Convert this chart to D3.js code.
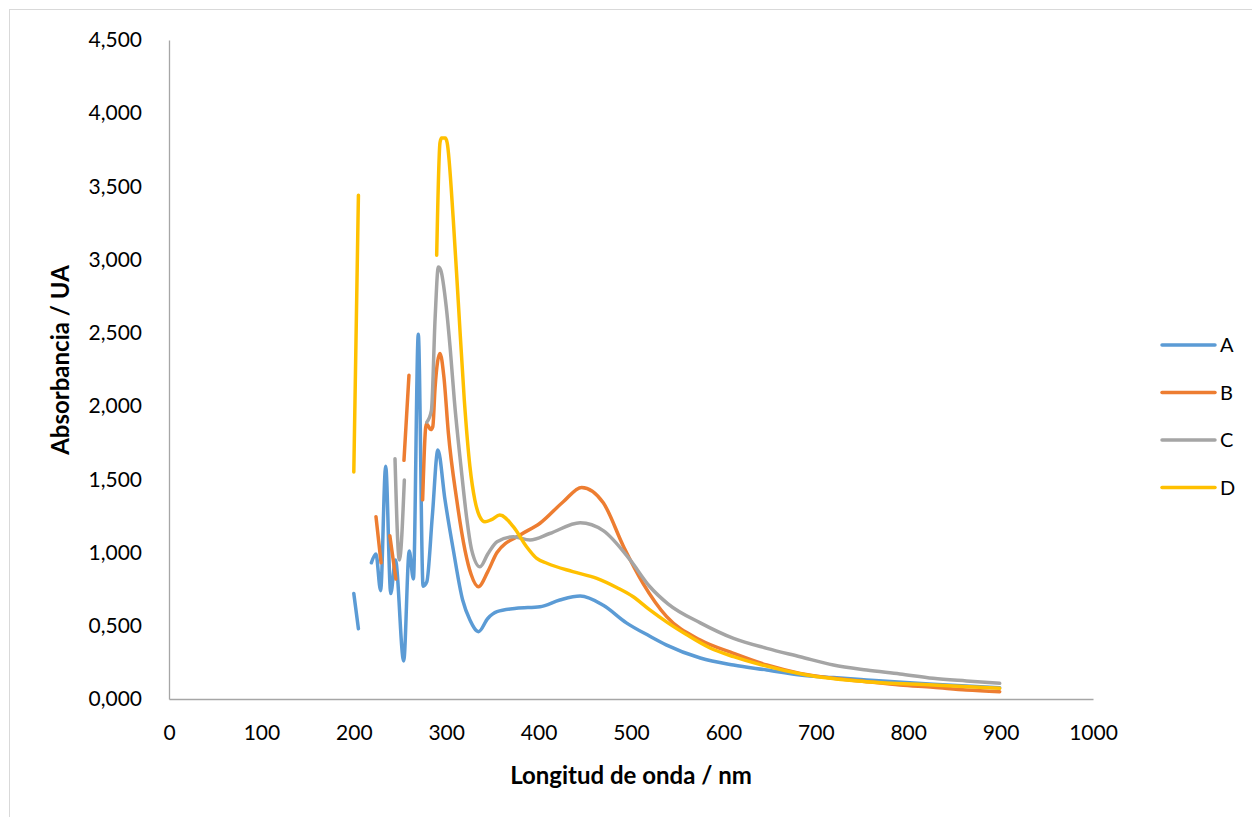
<!DOCTYPE html>
<html>
<head>
<meta charset="utf-8">
<title>Absorbancia</title>
<style>
  body { margin: 0; background: #fff; }
  #chart { width: 1252px; height: 817px; }
  .tick text { font-family: Lato, sans-serif; font-size: 21px; fill: #000; }
  .axis-title { font-family: Lato, sans-serif; font-size: 24px; font-weight: bold; }
  .legend text { font-family: Lato, sans-serif; font-size: 20px; }
  .serie { fill: none; stroke-width: 3.5px; stroke-linejoin: round; stroke-linecap: round; }
</style>
</head>
<body>
<div id="chart"></div>
<script src="https://cdnjs.cloudflare.com/ajax/libs/d3/7.8.5/d3.min.js"></script>
<script>
// wavelengths (nm) and absorbance (UA); null = gap in the recorded trace
var wlA  = [200, 205, null, 219, 224, 229, 234.5, 240, 245, 254, 260, 264.5, 269.8, 275, 279, 285, 291, 298.7, 307.7, 317.8, 325.7, 335, 345, 355, 376, 401.5, 423, 445, 470, 495, 520, 538, 575, 611, 647, 683, 719, 755, 827, 899];
var absA = [0.72, 0.48, null, 0.93, 0.99, 0.74, 1.59, 0.72, 0.95, 0.26, 1.01, 0.82, 2.49, 0.77, 0.80, 1.25, 1.70, 1.36, 1.017, 0.676, 0.54, 0.46, 0.55, 0.596, 0.619, 0.63, 0.676, 0.703, 0.64, 0.52, 0.43, 0.37, 0.28, 0.232, 0.198, 0.164, 0.146, 0.13, 0.10, 0.077];

var wlB  = [224, 229.5, null, 239, 245.5, null, 254.3, 259.7, null, 274.5, 278.5, 283.5, 285.5, 288, 293.3, 297.5, 302.3, 311.4, 320.3, 327, 334.8, 345, 355, 380, 401.5, 426.7, 446.6, 470, 492, 513, 538.6, 575, 611, 647, 683, 719, 755, 791, 827, 863, 899];
var absB = [1.245, 0.93, null, 1.115, 0.82, null, 1.63, 2.21, null, 1.36, 1.88, 1.84, 1.86, 2.13, 2.36, 2.2, 1.82, 1.36, 1.017, 0.85, 0.767, 0.87, 1.0, 1.12, 1.20, 1.347, 1.445, 1.34, 1.04, 0.79, 0.562, 0.403, 0.312, 0.232, 0.175, 0.141, 0.118, 0.096, 0.080, 0.061, 0.050];

var wlC  = [244.6, 249.3, 254.7, null, 279, 284, 288, 291.5, 294, 300, 304.5, 308.8, 316, 322, 327.6, 336.6, 345, 355, 372.6, 390.7, 412, 445, 470, 499, 520, 540, 575, 611, 647, 683, 719, 755, 791, 827, 863, 899];
var absC = [1.64, 0.95, 1.495, null, 1.89, 1.97, 2.6, 2.95, 2.93, 2.68, 2.38, 2.04, 1.586, 1.245, 1.017, 0.903, 0.99, 1.074, 1.108, 1.086, 1.13, 1.204, 1.15, 0.95, 0.77, 0.65, 0.52, 0.414, 0.346, 0.289, 0.232, 0.198, 0.171, 0.141, 0.123, 0.107];

var wlD  = [200, 205, null, 289.7, 293.3, 295, 299, 301, 307.7, 313, 319.6, 325.7, 331, 336, 342, 349, 358, 372.6, 387, 398, 409, 437, 463, 485, 502, 520, 540, 560, 585, 611, 640, 690, 755, 827, 899];
var absD = [1.55, 3.44, null, 3.03, 3.80, 3.83, 3.83, 3.80, 3.27, 2.72, 2.04, 1.586, 1.359, 1.25, 1.21, 1.225, 1.256, 1.177, 1.04, 0.96, 0.927, 0.87, 0.824, 0.76, 0.70, 0.61, 0.52, 0.44, 0.35, 0.289, 0.235, 0.164, 0.118, 0.096, 0.073];

var names  = ["A", "B", "C", "D"];
var colors = ["#5b9bd5", "#ed7d31", "#a5a5a5", "#ffc000"];
var xTicks = [0, 100, 200, 300, 400, 500, 600, 700, 800, 900, 1000];
var yTicks = [0, 0.5, 1, 1.5, 2, 2.5, 3, 3.5, 4, 4.5];

var series = [[wlA, absA], [wlB, absB], [wlC, absC], [wlD, absD]].map(function(s, i) {
  return {
    name: names[i],
    color: colors[i],
    values: s[0].map(function(w, j) { return [w, s[1][j]]; })
  };
});

var width = 1252, height = 817;
var svg = d3.select("#chart").append("svg")
  .attr("width", width)
  .attr("height", height);

// outer chart frame
svg.append("rect")
  .attr("x", 9.5).attr("y", 9.5)
  .attr("width", 1400).attr("height", 1000)
  .attr("fill", "none")
  .attr("stroke", "#d9d9d9")
  .attr("stroke-width", 1);

var x = d3.scaleLinear().domain([0, 1000]).range([169, 1093]);
var y = d3.scaleLinear().domain([0, 4.5]).range([699, 40]);

var fmt = function(v) { return v.toFixed(3).replace(".", ","); };

var xAxis = svg.append("g")
  .attr("transform", "translate(0," + y(0) + ")")
  .call(d3.axisBottom(x).tickValues(xTicks).tickSize(0).tickPadding(26).tickFormat(d3.format("d")));
xAxis.select(".domain").attr("stroke", "#a6a6a6").attr("stroke-width", 1.3);

var yAxis = svg.append("g")
  .attr("transform", "translate(" + x(0) + ",0)")
  .call(d3.axisLeft(y).tickValues(yTicks).tickSize(0).tickPadding(27).tickFormat(fmt));
yAxis.select(".domain").attr("stroke", "#a6a6a6").attr("stroke-width", 1.3);

// series lines
var line = d3.line()
  .defined(function(d) { return d[1] != null; })
  .x(function(d) { return x(d[0]); })
  .y(function(d) { return y(d[1]); })
  .curve(d3.curveMonotoneX);

svg.selectAll("path.serie")
  .data(series)
  .enter().append("path")
  .attr("class", "serie")
  .attr("stroke", function(d) { return d.color; })
  .attr("d", function(d) { return line(d.values); });

// axis titles
svg.append("text")
  .attr("class", "axis-title")
  .attr("x", 631).attr("y", 784)
  .attr("text-anchor", "middle")
  .text("Longitud de onda / nm");

svg.append("text")
  .attr("class", "axis-title")
  .attr("transform", "translate(69,360) rotate(-90)")
  .attr("text-anchor", "middle")
  .text("Absorbancia / UA");

// legend
var legend = svg.append("g").attr("class", "legend");
var item = legend.selectAll("g")
  .data(series)
  .enter().append("g")
  .attr("transform", function(d, i) { return "translate(1162," + (345 + i * 47.5) + ")"; });

item.append("line")
  .attr("x1", 0).attr("x2", 53)
  .attr("stroke", function(d) { return d.color; })
  .attr("stroke-width", 3.5)
  .attr("stroke-linecap", "round");

item.append("text")
  .attr("x", 58).attr("dy", "0.36em")
  .text(function(d) { return d.name; });
</script>
</body>
</html>
